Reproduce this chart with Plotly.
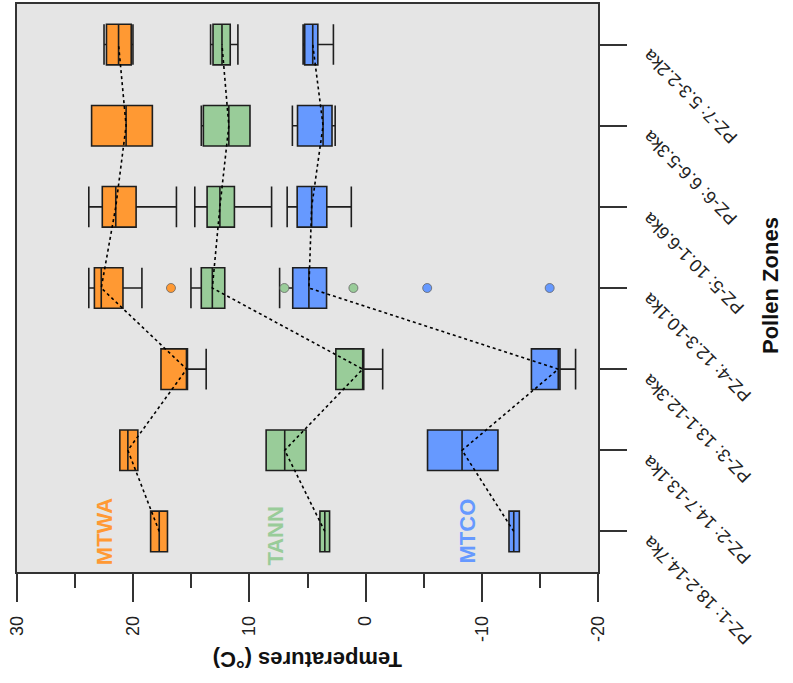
import plotly.graph_objects as go

# ---------------- data ----------------
zones = ["PZ-1: 18.2-14.7ka", "PZ-2: 14.7-13.1ka", "PZ-3: 13.1-12.3ka",
         "PZ-4: 12.3-10.1ka", "PZ-5: 10.1-6.6ka", "PZ-6: 6.6-5.3ka",
         "PZ-7: 5.3-2.2ka"]
zone_pos = [1, 2, 3, 4, 5, 6, 7]

# MTWA
mtwa_q1 = [17.05, 19.60, 15.33, 20.88, 19.75, 18.35, 20.17]
mtwa_med = [17.76, 20.46, 15.40, 22.75, 21.50, 20.61, 21.26]
mtwa_q3 = [18.50, 21.15, 17.61, 23.34, 22.66, 23.58, 22.30]
mtwa_lo = [17.05, 19.60, 13.72, 19.25, 16.28, 18.35, 20.02]
mtwa_hi = [18.50, 21.15, 17.61, 23.82, 23.82, 23.58, 22.51]
mtwa_out_zone = [4]
mtwa_out_val = [16.75]

# TANN
tann_q1 = [3.10, 5.12, 0.16, 12.12, 11.29, 9.95, 11.65]
tann_med = [3.51, 6.96, 0.25, 13.19, 12.54, 11.77, 12.36]
tann_q3 = [3.93, 8.56, 2.56, 14.14, 13.64, 13.96, 13.13]
tann_lo = [3.10, 5.12, -1.47, 12.12, 8.09, 9.95, 10.99]
tann_hi = [3.93, 8.56, 2.56, 15.03, 14.70, 14.14, 13.34]
tann_out_zone = [4, 4]
tann_out_val = [6.99, 1.05]

# MTCO
mtco_q1 = [-13.23, -11.39, -16.73, 3.36, 3.34, 2.89, 4.11]
mtco_med = [-12.75, -8.30, -16.58, 4.88, 4.64, 3.66, 4.55]
mtco_q3 = [-12.34, -5.33, -14.27, 6.27, 5.89, 5.86, 5.24]
mtco_lo = [-13.23, -11.39, -18.07, 3.36, 1.23, 2.62, 2.77]
mtco_hi = [-12.34, -5.33, -14.27, 7.40, 6.75, 6.30, 5.38]
mtco_out_zone = [4, 4]
mtco_out_val = [-5.30, -15.84]

x_ticks = [30, 20, 10, 0, -10, -20]
x_minor = [25, 15, 5, -5, -15]

# ---------------- styles ----------------
C_MTWA = "#FF9933"
C_TANN = "#99CC99"
C_MTCO = "#6699FF"
EDGE = "#1e1e1e"
FONT = "Liberation Sans, Arial, sans-serif"

W, H = 793, 683
ML, MR, MT, MB = 17, 195, 2, 111
PW = W - ML - MR
PH = H - MT - MB


def px_to_paper(px, py):
    return (px - ML) / PW, (H - MB - py) / PH


fig = go.Figure()

series = [
    ("MTWA", C_MTWA, mtwa_q1, mtwa_med, mtwa_q3, mtwa_lo, mtwa_hi, mtwa_out_zone, mtwa_out_val),
    ("TANN", C_TANN, tann_q1, tann_med, tann_q3, tann_lo, tann_hi, tann_out_zone, tann_out_val),
    ("MTCO", C_MTCO, mtco_q1, mtco_med, mtco_q3, mtco_lo, mtco_hi, mtco_out_zone, mtco_out_val),
]

for name, col, q1, med, q3, lo, hi, oz, ov in series:
    fig.add_trace(go.Box(
        y=zone_pos, q1=q1, median=med, q3=q3, lowerfence=lo, upperfence=hi,
        orientation="h", name=name, width=0.5, whiskerwidth=1,
        fillcolor=col, line=dict(color=EDGE, width=1.6),
        boxpoints=False, showlegend=False, hoverinfo="skip",
    ))

for name, col, q1, med, q3, lo, hi, oz, ov in series:
    fig.add_trace(go.Scatter(
        x=med, y=zone_pos, mode="lines",
        line=dict(color="black", width=1.6, dash="3px,3px"),
        showlegend=False, hoverinfo="skip",
    ))
    fig.add_trace(go.Scatter(
        x=ov, y=oz, mode="markers",
        marker=dict(size=9, color=col, line=dict(color="#666666", width=0.8)),
        showlegend=False, hoverinfo="skip",
    ))

fig.update_layout(
    width=W, height=H,
    margin=dict(l=ML, r=MR, t=MT, b=MB, pad=0),
    paper_bgcolor="white", plot_bgcolor="#E5E5E5",
    boxmode="overlay",
    font=dict(family=FONT, color="#222222"),
    xaxis=dict(
        range=[30, -20], tickvals=x_ticks, ticktext=[str(v) for v in x_ticks],
        ticks="outside", ticklen=28, tickwidth=1.5, tickcolor="#333333",
        tickangle=-90, tickfont=dict(size=18, family=FONT, color="#222222"),
        ticklabelstandoff=7,
        minor=dict(tickvals=x_minor, ticks="outside", ticklen=14,
                   tickwidth=1.5, tickcolor="#333333", showgrid=False),
        showgrid=False, zeroline=False,
        showline=True, mirror=True, linecolor="#333333", linewidth=1.5,
    ),
    yaxis=dict(
        range=[0.5, 7.5], tickvals=zone_pos, side="right",
        ticks="outside", ticklen=27, tickwidth=1.5, tickcolor="#333333",
        showticklabels=False, showgrid=False, zeroline=False,
        showline=True, mirror=True, linecolor="#333333", linewidth=1.5,
    ),
)

annotations = []
# zone labels (rotated, ending near tick marks)
for pos, lab in zip(zone_pos, zones):
    ty = H - MB - (pos - 0.5) / 7 * PH
    ax_, ay_ = px_to_paper(636, ty - 2)
    annotations.append(dict(
        text=lab, xref="paper", yref="paper", x=ax_, y=ay_,
        xanchor="left", yanchor="top", textangle=-135, showarrow=False,
        font=dict(size=18, family=FONT, color="#222222"),
    ))

# axis titles
tx, ty_ = px_to_paper(307.5, 660)
annotations.append(dict(
    text="<b>Temperatures (°C)</b>", xref="paper", yref="paper", x=tx, y=ty_,
    xanchor="center", yanchor="middle", textangle=180, showarrow=False,
    font=dict(size=22, family=FONT, color="#111111"),
))
px_, py_ = px_to_paper(770, 285)
annotations.append(dict(
    text="<b>Pollen Zones</b>", xref="paper", yref="paper", x=px_, y=py_,
    xanchor="center", yanchor="middle", textangle=-90, showarrow=False,
    font=dict(size=22, family=FONT, color="#111111"),
))

# series labels
for (name, col, *_), (lx, ly) in zip(series, [(22.45, 1.0), (7.77, 0.94), (-8.73, 1.0)]):
    annotations.append(dict(
        text="<b>" + name + "</b>", xref="x", yref="y", x=lx, y=ly,
        xanchor="center", yanchor="middle", textangle=-90, showarrow=False,
        font=dict(size=22, family=FONT, color=col),
    ))

fig.update_layout(annotations=annotations)
fig.write_html("out.html")
